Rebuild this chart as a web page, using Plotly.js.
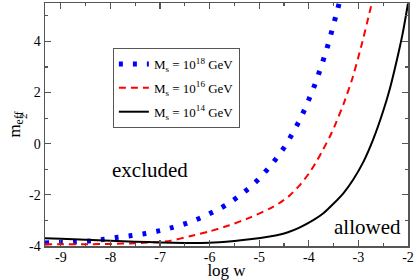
<!DOCTYPE html>
<html>
<head>
<meta charset="utf-8">
<script src="https://cdn.plot.ly/plotly-3.0.1.min.js"></script>
<style>html,body{margin:0;padding:0;background:#fff;}#chart{width:415px;height:280px;}</style>
</head>
<body>
<div id="chart"></div>
<script>
// Ms = 10^18 GeV (blue dotted)
const logw18 = [-9.32, -9.0, -8.7, -8.4, -8.13, -7.85, -7.57, -7.29, -7.0, -6.74, -6.45, -6.18, -5.93, -5.67, -5.43, -5.2, -5.0, -4.81, -4.63, -4.47, -4.33, -4.19, -4.07, -3.96, -3.85, -3.76, -3.67, -3.59, -3.52, -3.44, -3.38];
const m2_18 = [-3.88, -3.86, -3.84, -3.80, -3.74, -3.66, -3.59, -3.51, -3.40, -3.27, -3.10, -2.90, -2.67, -2.40, -2.08, -1.73, -1.36, -0.95, -0.51, -0.07, 0.40, 0.90, 1.40, 1.91, 2.45, 2.97, 3.50, 4.02, 4.52, 5.10, 5.55];
// Ms = 10^16 GeV (red dashed)
const logw16 = [-9.32, -9.0, -8.5, -8.0, -7.5, -7.0, -6.8, -6.4, -6.0, -5.6, -5.2, -4.8, -4.6, -4.4, -4.2, -4.0, -3.84, -3.71, -3.58, -3.45, -3.3, -3.13, -2.95, -2.76, -2.68];
const m2_16 = [-3.93, -3.93, -3.93, -3.92, -3.89, -3.84, -3.80, -3.62, -3.43, -3.19, -2.90, -2.55, -2.33, -2.05, -1.66, -1.17, -0.68, -0.22, 0.26, 0.82, 1.55, 2.50, 3.75, 5.25, 5.90];
// Ms = 10^14 GeV (black solid)
const logw14 = [-9.32, -9.0, -8.5, -8.0, -7.5, -7.0, -6.5, -6.0, -5.5, -5.19, -4.79, -4.58, -4.42, -4.2, -3.91, -3.7, -3.51, -3.3, -3.11, -2.9, -2.70, -2.5, -2.37, -2.2, -2.10, -2.0];
const m2_14 = [-3.70, -3.72, -3.76, -3.79, -3.83, -3.86, -3.88, -3.87, -3.80, -3.74, -3.63, -3.55, -3.46, -3.29, -2.99, -2.71, -2.36, -1.93, -1.42, -0.71, 0.18, 1.28, 2.12, 3.48, 4.38, 5.48];

const names = ['M<sub>s</sub> = 10<sup>18</sup> GeV', 'M<sub>s</sub> = 10<sup>16</sup> GeV', 'M<sub>s</sub> = 10<sup>14</sup> GeV'];
const xTickVals = [-9, -8, -7, -6, -5, -4, -3, -2];
const yTickVals = [-4, -2, 0, 2, 4];

const font = 'Liberation Serif';

const traces = [
  {x: logw18, y: m2_18, name: names[0], legendgroup: 'a', mode: 'lines', line: {color: '#0000ff', width: 5, dash: '4px,10px', shape: 'spline', smoothing: 0.6}},
  {x: logw16, y: m2_16, name: names[1], legendgroup: 'b', mode: 'lines', line: {color: '#ff0000', width: 2, dash: '7px,5px', shape: 'spline', smoothing: 0.6}},
  {x: logw14, y: m2_14, name: names[2], legendgroup: 'c', mode: 'lines', line: {color: '#000000', width: 2, shape: 'spline', smoothing: 0.6}}
];

const axisCommon = {
  showgrid: false, zeroline: false, showline: true, linecolor: '#555', linewidth: 1.5,
  mirror: 'allticks', ticks: 'inside', ticklen: 6, tickwidth: 1.2, tickcolor: '#555',
  tickfont: {family: font, size: 14, color: '#000'}
};

const layout = {
  width: 415, height: 280,
  margin: {l: 45, r: 7, t: 3, b: 34},
  paper_bgcolor: '#fff', plot_bgcolor: '#fff',
  showlegend: true,
  legend: {x: 0.187, y: 0.815, xanchor: 'left', yanchor: 'top', bgcolor: '#fff', bordercolor: '#555', borderwidth: 1,
           font: {family: font, size: 13, color: '#000'}, tracegroupgap: 4, itemwidth: 30},
  xaxis: Object.assign({}, axisCommon, {
    range: [-9.32, -2], tickvals: xTickVals, ticktext: xTickVals.map(String), ticklabelstandoff: -2,
    minor: {dtick: 0.5, tick0: 0, ticks: 'inside', ticklen: 3, tickcolor: '#555', tickwidth: 1.2},
    title: {text: 'log w', font: {family: font, size: 17, color: '#000'}, standoff: 0}
  }),
  yaxis: Object.assign({}, axisCommon, {
    range: [-4, 5.5], tickvals: yTickVals, ticktext: yTickVals.map(String),
    minor: {dtick: 1, tick0: 0, ticks: 'inside', ticklen: 3, tickcolor: '#555', tickwidth: 1.2},
    title: {text: 'm<sub>eff</sub>', font: {family: font, size: 17, color: '#000'}, standoff: 4}
  }),
  annotations: [
    {text: 'excluded', x: -7.196, y: -1.03, xref: 'x', yref: 'y', showarrow: false, font: {family: font, size: 21, color: '#000'}},
    {text: 'allowed', x: -2.81, y: -3.24, xref: 'x', yref: 'y', showarrow: false, font: {family: font, size: 21, color: '#000'}},
    {text: '2', x: -0.0825, y: 0.535, xref: 'paper', yref: 'paper', showarrow: false, textangle: -90, font: {family: font, size: 11, color: '#000'}}
  ]
};

Plotly.newPlot('chart', traces, layout, {displayModeBar: false, staticPlot: true});
</script>
</body>
</html>
